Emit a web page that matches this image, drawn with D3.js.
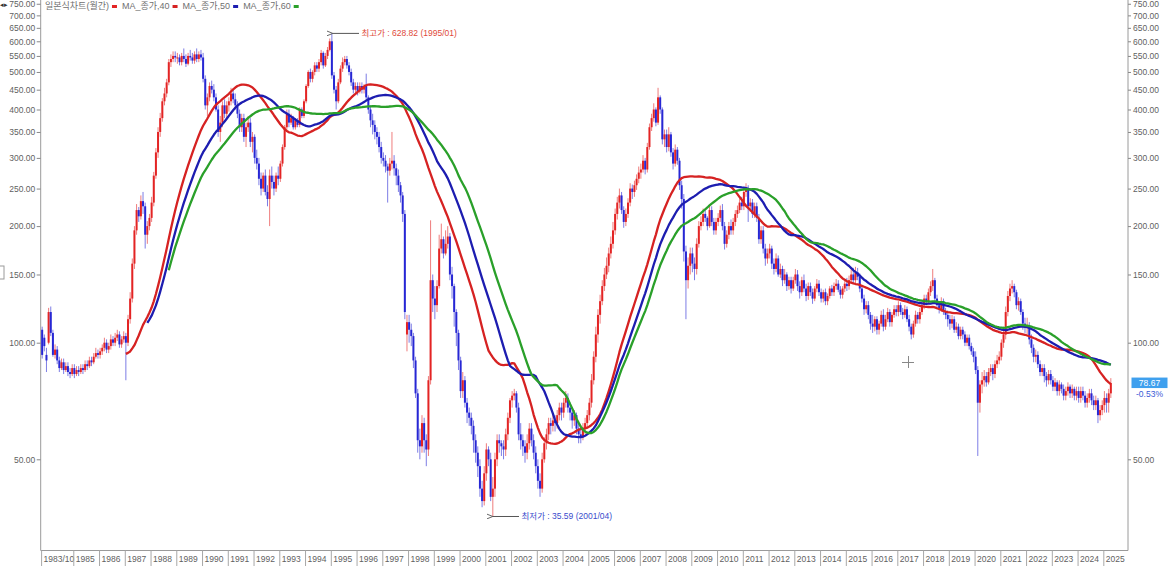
<!DOCTYPE html>
<html><head><meta charset="utf-8">
<script src="https://cdn.jsdelivr.net/npm/d3@7"></script>
<style>
html,body{margin:0;padding:0;background:#fff;}
svg{display:block;font-family:"Liberation Sans",Arial,"Noto Sans CJK KR",sans-serif;}
</style></head><body>
<svg id="chart" width="1171" height="566"></svg>
<script>
// ---------------- DATA (monthly, from 1983/10) ----------------
const startYear = 1983, startMonth = 10;
const opens = [
108,103,93,
100,120,106,93,96,90,86,89,85,87,84,83,
86,83,85,84,86,85,88,87,90,89,92,94,
93,95,97,100,96,98,102,100,103,105,99,102,
104,100,115,130,160,195,220,212,232,225,190,200,
210,230,270,310,350,380,420,440,470,530,540,550,
545,545,530,550,540,525,550,545,535,555,540,555,
545,480,410,430,460,450,430,400,350,370,410,390,
410,420,440,425,410,390,360,380,340,360,370,330,
340,300,290,265,250,270,245,235,270,260,250,270,
265,290,320,360,390,370,380,360,375,365,400,385,
420,460,500,480,500,520,510,530,560,520,550,570,
600,490,450,420,470,510,530,540,520,500,470,450,
460,445,460,450,460,430,400,375,365,350,340,320,
300,295,285,278,290,295,282,270,255,240,215,105,
113,108,104,90,74,56,54,62,56,53,80,145,
130,125,140,175,185,170,180,188,150,140,120,106,
90,75,80,70,66,64,61,56,52,48,42,39,
46,53,50,40,42,50,56,55,54,53,58,64,
71,73,74,68,58,56,54,52,55,60,56,52,
48,44,42,50,55,58,62,61,63,62,65,68,
66,70,72,68,66,63,65,60,58,57,60,62,
65,70,80,92,105,118,128,140,150,158,170,180,
195,215,230,240,220,205,215,230,250,245,255,265,
275,280,295,280,320,360,380,400,370,430,400,335,
345,320,345,310,290,315,295,255,235,172,145,158,
170,160,155,180,200,205,215,210,200,220,205,195,
205,210,220,200,180,190,200,195,205,215,220,230,
225,245,250,225,230,215,225,210,185,195,175,165,
170,175,160,155,165,150,155,145,150,140,145,138,
145,150,140,135,145,138,132,140,135,130,138,142,
135,130,135,128,132,138,135,140,142,137,133,138,
142,140,145,150,145,152,148,138,130,122,125,118,
112,110,115,108,112,118,110,115,120,113,118,122,
120,125,120,118,122,115,110,105,112,118,115,120,
125,130,128,135,140,145,130,125,122,128,120,118,
115,112,115,108,110,104,108,105,100,103,98,95,
92,85,70,78,80,82,79,84,86,83,88,90,
92,100,105,120,132,138,140,135,125,128,120,112,
110,110,102,97,92,93,88,84,86,82,80,83,
80,77,79,75,78,76,73,75,77,74,76,73,
75,72,75,73,70,72,74,71,69,71,65,67,
69,72,70,74
];
const highs = [
110,105,97,
123,124,108,99,98,92,91,91,89,89,86,88,
88,87,87,88,88,90,90,92,92,94,97,96,
97,99,103,102,100,105,104,106,108,107,104,107,
106,118,135,165,200,228,224,240,245,230,206,215,
238,276,318,360,392,428,455,480,540,555,565,565,
560,555,560,575,555,560,570,560,565,575,565,570,
560,490,440,470,475,465,440,410,385,420,425,420,
430,455,450,440,420,400,390,390,370,385,380,350,
345,315,300,275,275,280,255,280,285,270,275,285,
295,325,365,400,400,390,385,380,380,405,405,425,
465,505,510,505,530,530,540,570,565,560,580,610,
628.82,500,460,480,520,545,550,550,530,510,480,470,
470,470,470,465,495,435,410,390,375,360,350,330,
310,305,290,300,350,305,290,280,260,245,220,118,
118,112,106,92,76,60,65,64,58,82,207,150,
140,145,190,203,188,195,200,192,157,142,122,108,
92,84,82,72,68,66,63,58,54,50,44,48,
55,54,52,45,52,58,58,56,56,60,66,72,
75,76,75,70,62,58,56,58,62,62,58,54,
50,46,52,57,60,64,64,65,65,67,70,70,
72,75,74,70,68,67,66,62,60,62,64,67,
72,83,95,110,122,133,145,156,166,176,188,205,
222,238,250,245,225,222,236,258,256,262,272,285,
290,305,300,328,368,390,415,405,455,435,405,355,
355,360,350,318,325,320,300,262,242,178,166,176,
176,166,186,206,212,222,220,212,226,225,210,210,
216,226,228,205,195,205,208,210,220,226,236,238,
252,258,255,236,235,230,230,215,200,200,180,175,
180,178,165,170,168,160,158,155,152,148,148,148,
155,154,144,148,150,142,143,143,138,140,146,145,
138,137,138,134,140,141,143,146,145,140,140,145,
147,149,155,156,157,156,151,141,133,128,128,120,
118,117,117,114,121,122,118,123,122,120,125,125,
128,127,123,125,124,118,112,114,121,120,123,128,
133,133,138,144,155,147,133,128,131,130,123,121,
118,118,117,113,112,110,110,107,105,105,100,97,
95,87,80,84,85,84,86,88,88,90,93,95,
102,110,124,136,142,145,142,137,131,130,122,116,
116,113,105,99,96,95,90,88,88,84,85,85,
82,81,80,80,79,78,77,79,78,78,77,77,
77,77,77,75,74,76,76,73,73,72,69,71,
75,74,76,81
];
const lows = [
91,95,84,
99,104,92,91,88,84,85,83,84,82,81,82,
81,82,82,83,83,84,85,86,87,88,91,91,
91,93,95,94,94,96,98,98,101,97,97,100,
80,98,112,127,155,190,205,208,215,175,180,195,
205,225,265,300,340,372,410,430,462,515,530,530,
525,520,520,530,515,520,535,525,525,530,530,535,
470,400,385,420,440,420,395,340,330,360,380,380,
395,410,415,400,380,350,350,330,320,350,320,310,
290,280,255,240,245,240,225,200,250,240,245,255,
260,285,315,355,360,365,355,355,360,360,380,380,
415,455,470,470,490,500,500,520,510,515,540,565,
480,440,400,415,465,500,520,510,490,460,440,440,
435,440,440,440,420,390,360,345,335,325,310,290,
285,275,230,270,280,270,255,245,230,205,115,95,
100,98,86,72,52,50,52,52,48,51,78,120,
115,120,138,170,165,168,175,145,130,110,98,85,
72,72,68,62,61,58,52,49,45,40,37.6,38,
44,48,39,35.59,40,48,52,51,50,51,56,62,
68,71,66,56,53,51,49,50,53,54,50,46,
42,40,41,49,53,56,58,59,59,60,63,63,
64,68,66,63,60,61,58,55,55,56,58,60,
63,68,78,89,100,112,125,136,146,152,165,175,
190,208,222,215,198,200,210,225,235,238,248,258,
265,275,272,275,315,352,372,362,365,390,325,320,
310,312,302,280,285,288,248,222,162,115,138,150,
152,145,150,176,195,200,205,195,198,200,190,190,
200,205,195,174,176,185,190,190,200,210,216,220,
220,238,205,218,210,210,205,180,180,170,158,160,
165,155,150,152,148,147,140,142,136,137,134,136,
142,136,130,132,135,128,129,132,126,128,135,132,
127,127,125,125,130,132,132,137,135,130,130,135,
136,137,142,142,142,145,135,127,118,119,115,108,
106,107,105,105,110,107,108,113,110,110,116,117,
117,118,115,116,113,107,102,103,110,112,112,118,
122,125,126,132,136,128,122,119,120,118,115,110,
108,109,106,106,102,102,102,98,98,96,93,89,
83,51,66,74,77,77,78,82,80,81,86,88,
90,97,102,117,128,134,131,122,121,118,108,106,
105,99,94,89,89,86,82,82,79,77,78,78,
75,75,73,73,74,71,71,73,72,72,71,71,
70,70,71,68,68,70,69,67,67,62,63,65,
66,66,66,72
];
const closes = [
93,98,90,
120,106,93,96,90,86,89,85,87,84,83,86,
83,85,84,86,85,88,87,90,89,92,94,93,
95,97,100,96,98,102,100,103,105,99,102,104,
100,115,130,160,195,220,212,232,225,190,200,210,
230,270,310,350,380,420,440,470,530,540,550,545,
545,530,550,540,525,550,545,535,555,540,555,545,
480,410,430,460,450,430,400,350,370,410,390,410,
420,440,425,410,390,360,380,340,360,370,330,340,
300,290,265,250,270,245,235,270,260,250,270,265,
290,320,360,390,370,380,360,375,365,400,385,420,
460,500,480,500,520,510,530,560,520,550,570,600,
490,450,420,470,510,530,540,520,500,470,450,460,
445,460,450,460,430,400,375,365,350,340,320,300,
295,285,278,290,295,282,270,255,240,215,120,113,
108,104,90,74,56,54,62,56,53,80,145,130,
125,140,175,185,170,180,188,150,140,120,106,90,
75,80,70,66,64,61,56,52,48,42,39,46,
53,50,40,42,50,56,55,54,53,58,64,71,
73,74,68,58,56,54,52,55,60,56,52,48,
44,42,50,55,58,62,61,63,62,65,68,66,
70,72,68,66,63,65,60,58,57,60,62,65,
70,80,92,105,118,128,140,150,158,170,180,195,
215,230,240,220,205,215,230,250,245,255,265,275,
280,295,280,320,360,380,400,370,430,400,335,345,
320,345,310,290,315,295,255,235,172,145,158,170,
160,155,180,200,205,215,210,200,220,205,195,205,
210,220,200,180,190,200,195,205,215,220,230,225,
245,250,225,230,215,225,210,185,195,175,165,170,
175,160,155,165,150,155,145,150,140,145,138,145,
150,140,135,145,138,132,140,135,130,138,142,135,
130,135,128,132,138,135,140,142,137,133,138,142,
140,145,150,145,152,148,138,130,122,125,118,112,
110,115,108,112,118,110,115,120,113,118,122,120,
125,120,118,122,115,110,105,112,118,115,120,125,
130,128,135,140,145,130,125,122,128,120,118,115,
112,115,108,110,104,108,105,100,103,98,95,92,
85,70,78,80,82,79,84,86,83,88,90,92,
100,105,120,132,138,140,135,125,128,120,112,110,
110,102,97,92,93,88,84,86,82,80,83,80,
77,79,75,78,76,73,75,77,74,76,73,75,
72,75,73,70,72,74,71,69,71,65,67,69,
72,70,74,78.67
];
const yTicks = [50,100,150,200,250,300,350,400,450,500,550,600,650,700,750];
const xTickLabels = ["1983/10","1985","1986","1987","1988","1989","1990","1991","1992","1993","1994","1995","1996","1997","1998","1999","2000","2001","2002","2003","2004","2005","2006","2007","2008","2009","2010","2011","2012","2013","2014","2015","2016","2017","2018","2019","2020","2021","2022","2023","2024","2025"];
const seriesName = "일본식차트(월간)";
const maPeriods = [40, 50, 60];
const maNames = ["MA_종가,40", "MA_종가,50", "MA_종가,60"];
const maColors = ["#d62222", "#1d1db0", "#2aa02a"];
const upColor = "#e32424", downColor = "#2727d4";
const highLabel = "최고가 : 628.82 (1995/01)";
const lowLabel = "최저가 : 35.59 (2001/04)";
const lastLabel = "78.67", lastChange = "-0.53%";

// ---------------- LAYOUT ----------------
const svg = d3.select("#chart");
const P = {left: 40.7, right: 1128, top: 0, bottom: 550.5};
const nSlots = 506.5;
const x = d3.scaleLinear().domain([0, nSlots]).range([41.1, 1128]);
const y = d3.scaleLog().domain([50, 100]).range([459.3, 342.7]);
const cx = i => x(i + 0.5);

const defs = svg.append("defs");
defs.append("clipPath").attr("id","clip")
  .append("rect").attr("x",P.left).attr("y",P.top).attr("width",P.right-P.left).attr("height",P.bottom-P.top);
defs.append("marker").attr("id","arrow").attr("viewBox","0 0 10 10")
  .attr("refX",0).attr("refY",5).attr("markerWidth",6).attr("markerHeight",6).attr("orient","auto-start-reverse")
  .append("path").attr("d","M10,1 L0,5 L10,9").attr("fill","none").attr("stroke","#555").attr("stroke-width",1.5);

const data = closes.map((c,i)=>({i, o:opens[i], h:highs[i], l:lows[i], c}));

// borders
const frame = svg.append("g").attr("stroke","#9a9a9a").attr("stroke-width",1).attr("fill","none");
frame.append("line").attr("x1",P.left).attr("x2",P.left).attr("y1",0).attr("y2",P.bottom);
frame.append("line").attr("x1",P.right).attr("x2",P.right).attr("y1",0).attr("y2",P.bottom);
frame.append("line").attr("x1",P.left).attr("x2",P.right).attr("y1",P.bottom).attr("y2",P.bottom);

const plot = svg.append("g").attr("clip-path","url(#clip)");

// candles
const cg = plot.append("g");
cg.selectAll("line.wick").data(data).join("line").attr("class","wick")
  .attr("x1",d=>cx(d.i)).attr("x2",d=>cx(d.i))
  .attr("y1",d=>y(d.h)).attr("y2",d=>y(d.l))
  .attr("stroke",d=>d.c>=d.o?upColor:downColor).attr("stroke-opacity",0.6).attr("stroke-width",1);
cg.selectAll("rect.body").data(data).join("rect").attr("class","body")
  .attr("x",d=>cx(d.i)-1).attr("width",2)
  .attr("y",d=>y(Math.max(d.o,d.c)))
  .attr("height",d=>Math.max(1, y(Math.min(d.o,d.c))-y(Math.max(d.o,d.c))))
  .attr("fill",d=>d.c>=d.o?upColor:downColor);

// moving averages (simple, on closes)
const sma = p => closes.map((c,i)=> i < p-1 ? null : d3.mean(closes.slice(i-p+1, i+1)));
const line = d3.line().defined(d=>d.v!=null).x(d=>cx(d.i)).y(d=>y(d.v));
maPeriods.forEach((p,k)=>{
  const vals = sma(p).map((v,i)=>({i,v}));
  plot.append("path").datum(vals).attr("d",line).attr("fill","none")
    .attr("stroke",maColors[k]).attr("stroke-width",2.3).attr("stroke-linejoin","round");
});

// axes
const fmt = d3.format(".2f");
function styleAxis(g){
  g.select(".domain").remove();
  g.selectAll(".tick line").attr("stroke","#888");
  g.selectAll(".tick text").attr("fill","#5f5f5f").attr("font-size","8.5px");
}
svg.append("g").attr("transform",`translate(${P.left},0)`)
  .call(d3.axisLeft(y).tickValues(yTicks).tickFormat(fmt).tickSize(4).tickPadding(1.5)).call(styleAxis);
svg.append("g").attr("transform",`translate(${P.right},0)`)
  .call(d3.axisRight(y).tickValues(yTicks).tickFormat(fmt).tickSize(3).tickPadding(2)).call(styleAxis);

const xTickIdx = xTickLabels.map((lab,k)=> k===0 ? 0 : (+lab - startYear)*12 - (startMonth-1));
const xg = svg.append("g").attr("transform",`translate(0,${P.bottom})`)
  .call(d3.axisBottom(x).tickValues(xTickIdx).tickFormat((d,k)=>xTickLabels[k]).tickSize(16).tickPadding(0));
xg.select(".domain").remove();
xg.selectAll(".tick line").attr("stroke","#a8a8a8");
xg.selectAll(".tick text").attr("text-anchor","start").attr("x",2).attr("y",5.5)
  .attr("fill","#5f5f5f").attr("font-size","8.5px");

// legend
const lg = svg.append("g").attr("font-size","9px").attr("fill","#707070");
let lx = 45;
[{label:seriesName,color:upColor}].concat(maNames.map((n,k)=>({label:n,color:maColors[k]}))).forEach(it=>{
  const t = lg.append("text").attr("x",lx).attr("y",8.5).text(it.label);
  const w = t.node().getComputedTextLength();
  lg.append("rect").attr("x",lx+w+3).attr("y",5).attr("width",5).attr("height",3).attr("fill",it.color);
  lx += w + 3 + 5 + 5;
});
// small UI glyphs
svg.append("text").attr("x",0).attr("y",6.5).attr("font-size","7px").attr("fill","#333").text("◂▸");
svg.append("rect").attr("x",-3).attr("y",266).attr("width",7).attr("height",13).attr("fill","none").attr("stroke","#9a9a9a");

// high / low annotations
const hiIdx = d3.maxIndex(highs), loIdx = d3.minIndex(lows);
const hy = y(highs[hiIdx]), ly = y(lows[loIdx]);
svg.append("line").attr("x1",cx(hiIdx)+1).attr("x2",359).attr("y1",hy).attr("y2",hy)
  .attr("stroke","#555").attr("stroke-width",1).attr("marker-start","url(#arrow)");
svg.append("text").attr("x",361.5).attr("y",hy+3).attr("font-size","8.5px").attr("fill","#e04a3a").text(highLabel);
svg.append("line").attr("x1",cx(loIdx)).attr("x2",519).attr("y1",ly).attr("y2",ly)
  .attr("stroke","#555").attr("stroke-width",1).attr("marker-start","url(#arrow)");
svg.append("text").attr("x",521.5).attr("y",ly+3).attr("font-size","8.5px").attr("fill","#3a4ccc").text(lowLabel);

// last price tag
const lastY = y(closes[closes.length-1]);
svg.append("rect").attr("x",1131.5).attr("y",lastY-5.5).attr("width",36).attr("height",10.5).attr("fill","#3fa0ee");
svg.append("text").attr("x",1149.5).attr("y",lastY+3).attr("text-anchor","middle").attr("font-size","8.5px").attr("fill","#fff").text(lastLabel);
svg.append("text").attr("x",1149.5).attr("y",lastY+13.5).attr("text-anchor","middle").attr("font-size","8.5px").attr("fill","#3a5ad6").text(lastChange);

// cursor crosshair
const cur = svg.append("g").attr("stroke","#888").attr("stroke-width",1);
cur.append("line").attr("x1",902).attr("x2",914).attr("y1",362.5).attr("y2",362.5);
cur.append("line").attr("x1",908.5).attr("x2",908.5).attr("y1",356).attr("y2",368);
</script>
</body></html>
